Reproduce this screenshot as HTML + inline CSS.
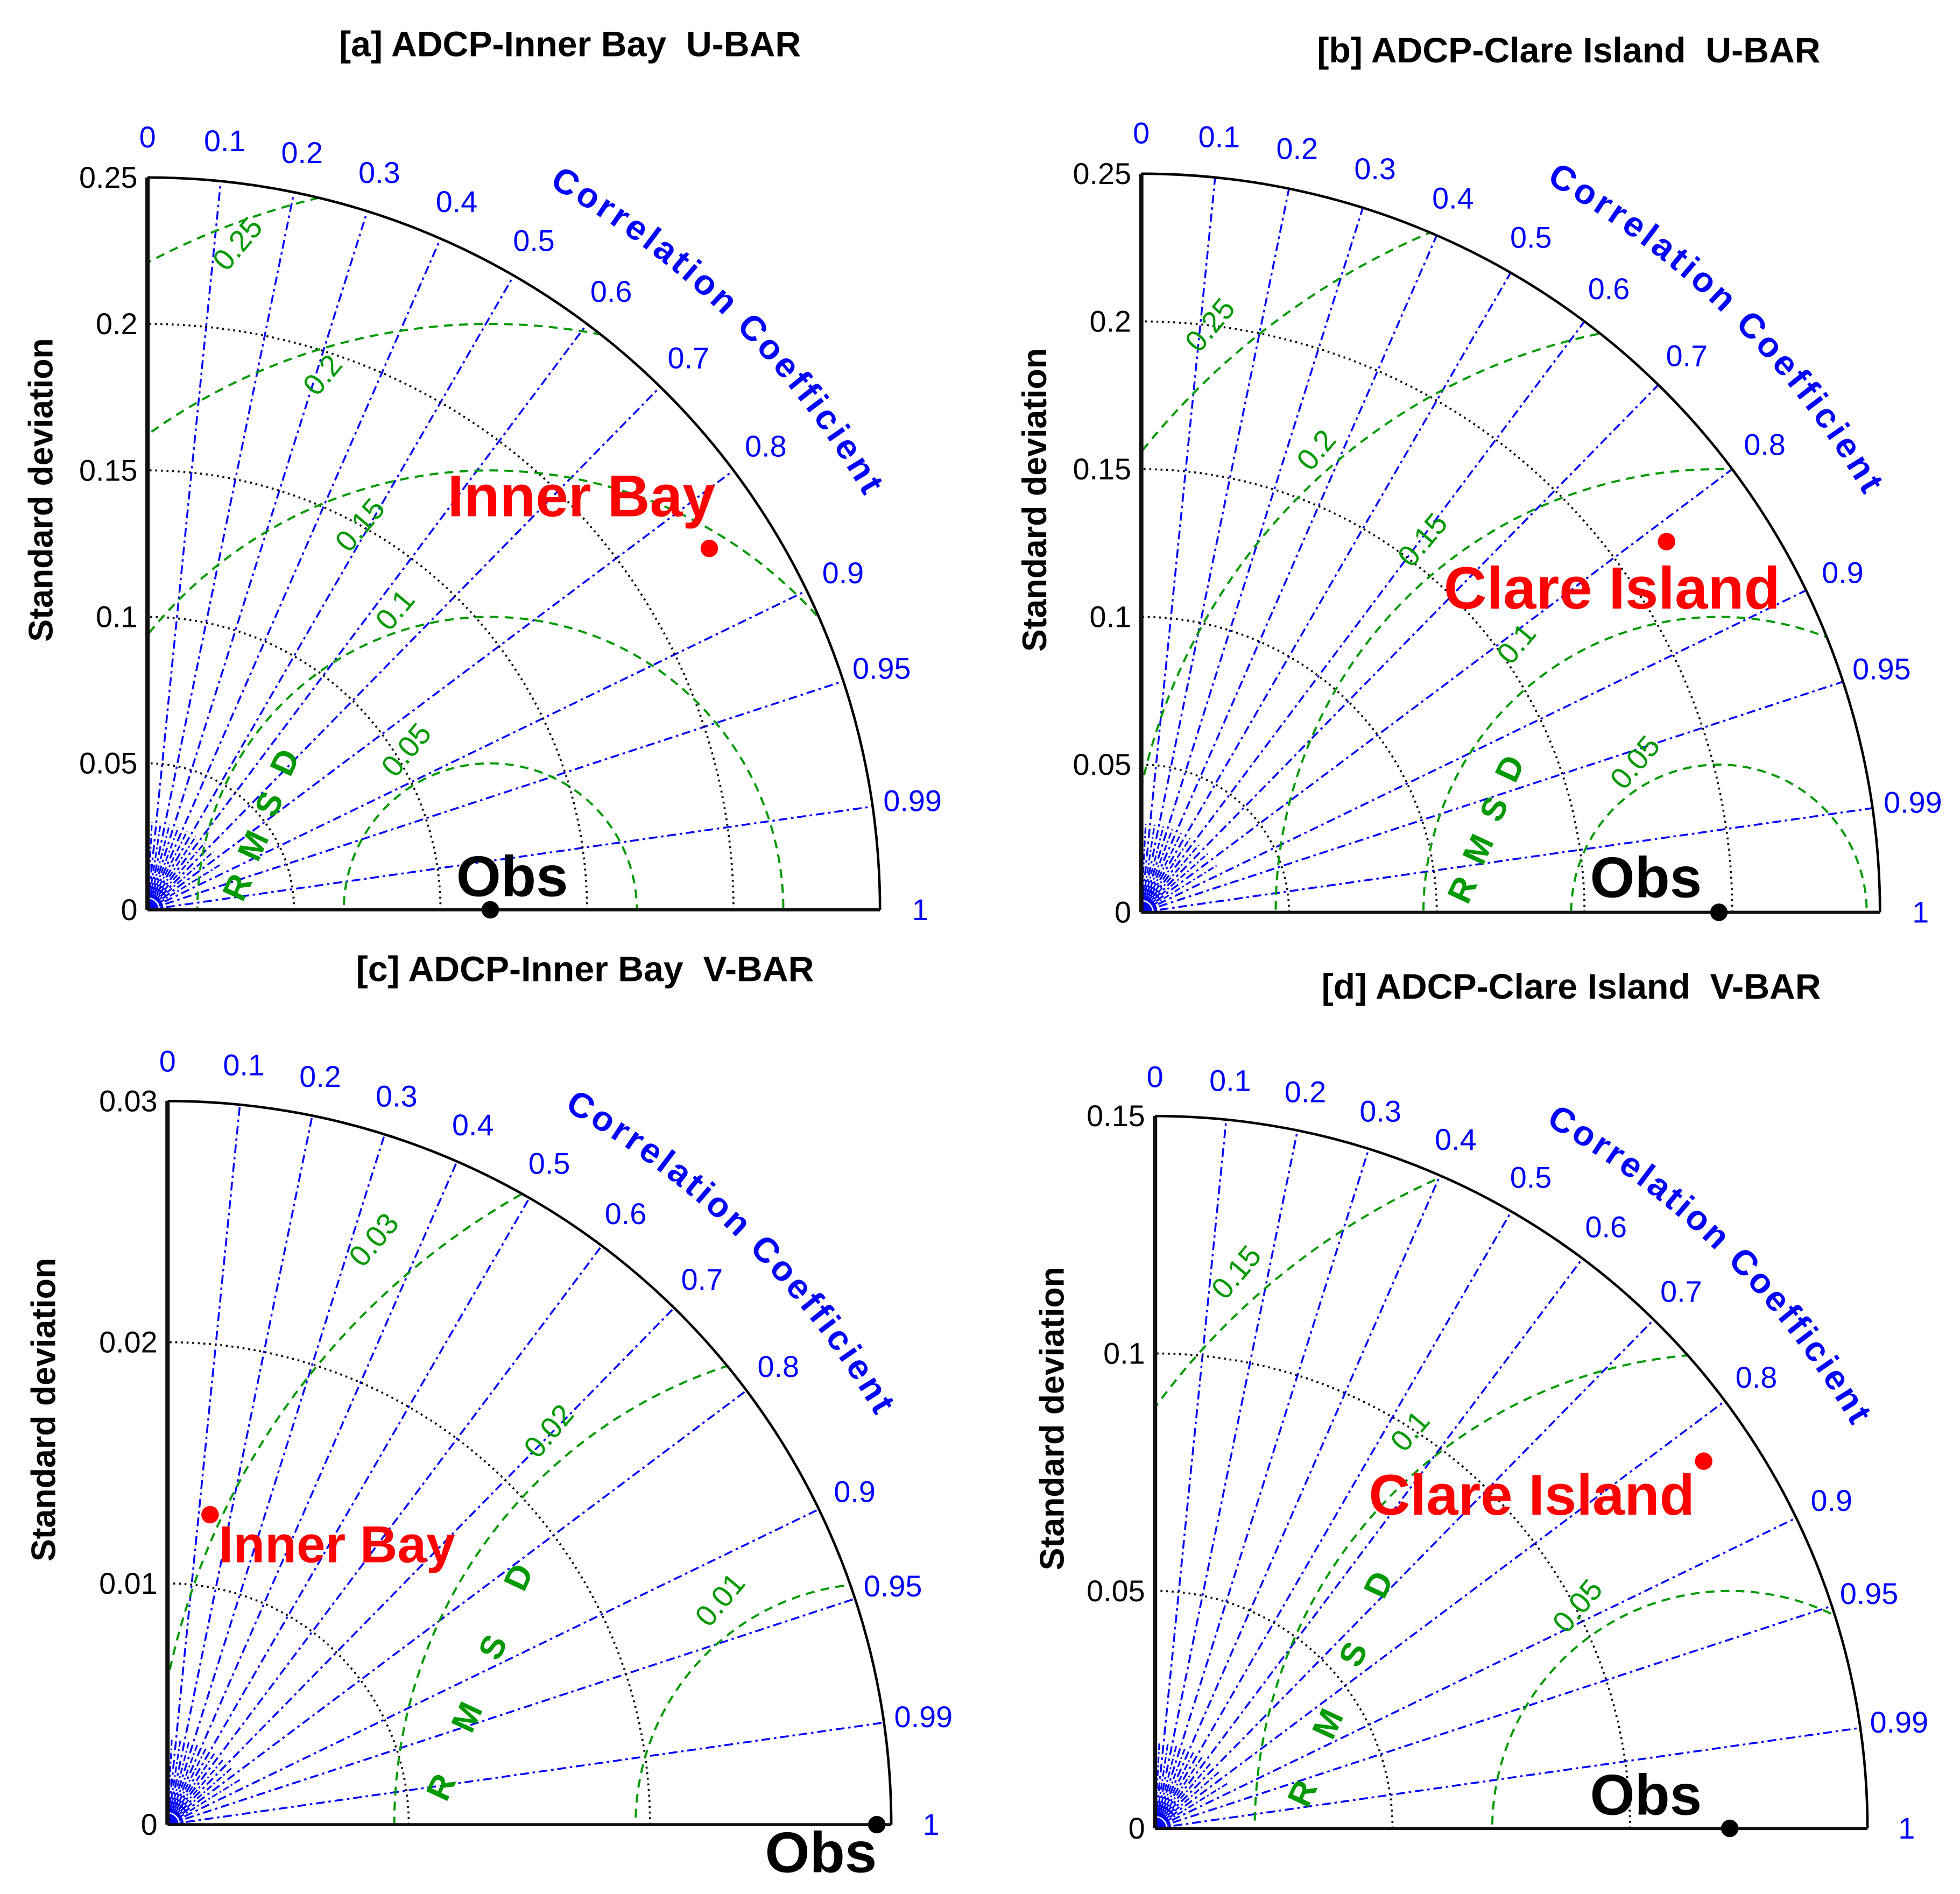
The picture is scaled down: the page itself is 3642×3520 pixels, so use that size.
<!DOCTYPE html>
<html><head><meta charset="utf-8">
<style>
html,body{margin:0;padding:0;background:#fff;overflow:hidden;width:3642px;height:3520px;}
svg{display:block;position:absolute;left:0;top:0;}
text{font-family:"Liberation Sans",Arial,sans-serif;}
</style></head>
<body>
<svg id="fig" xmlns="http://www.w3.org/2000/svg" width="3642" height="3520" viewBox="0 0 1568 1515.5" overflow="hidden">
<rect x="0" y="0" width="1568" height="1515.5" fill="#fff"/>
</svg>
<script>
// ---- data ----
const panelTitles = ["[a] ADCP-Inner Bay\u00a0\u00a0U-BAR","[b] ADCP-Clare Island\u00a0\u00a0U-BAR","[c] ADCP-Inner Bay\u00a0\u00a0V-BAR","[d] ADCP-Clare Island\u00a0\u00a0V-BAR"];
const modelNames = ["Inner Bay","Clare Island","Inner Bay","Clare Island"];
const stdMax = [0.25,0.25,0.03,0.15];
const stdObs = [0.117,0.1955,0.0294,0.121];
const stdModel = [0.228,0.2176,0.01297,0.139];
const corrModel = [0.841,0.817,0.136,0.831];
const stdTicksA = [0,0.05,0.1,0.15,0.2,0.25];
const stdTicksB = [0,0.05,0.1,0.15,0.2,0.25];
const stdTicksC = [0,0.01,0.02,0.03];
const stdTicksD = [0,0.05,0.1,0.15];
const rmsLevelsA = [0.05,0.1,0.15,0.2,0.25];
const rmsLevelsB = [0.05,0.1,0.15,0.2,0.25];
const rmsLevelsC = [0.01,0.02,0.03];
const rmsLevelsD = [0.05,0.1,0.15];
const corrTicks = [0,0.1,0.2,0.3,0.4,0.5,0.6,0.7,0.8,0.9,0.95,0.99,1];
const corrMinor = [0.05,0.15,0.25,0.35,0.45,0.55,0.65,0.75,0.85];
const stdTicksAll = [stdTicksA,stdTicksB,stdTicksC,stdTicksD];
const rmsAll = [rmsLevelsA,rmsLevelsB,rmsLevelsC,rmsLevelsD];

// ---- layout (pixel geometry) ----
const geom = [
 {ox:118,oy:728,R:586,tx:456,ty:45,sx:33,sy:392,mx:358,my:413,mf:47,bx:365,by:717,rm:[[72,-18],[110,-118]],lab:[[207,-128],[198,-240],[170,-308],[140,-428],[72,-533]]},
 {ox:913,oy:730,R:591,tx:1255,ty:50,sx:828,sy:400,mx:1155,my:487,mf:47.5,bx:1272,by:718,rm:[[257,-18],[295,-115]],lab:[[395,-120],[300,-215],[225,-298],[140,-370],[55,-470]]},
 {ox:134,oy:1460,R:579,tx:468,ty:785,sx:35,sy:1128,mx:175,my:1250,mf:41.5,bx:612,by:1498,rm:[[219,-30],[281,-198]],lab:[[442,-180],[305,-315],[165,-468]]},
 {ox:924,oy:1463,R:570,tx:1257,ty:799,sx:842,sy:1135,mx:1095,my:1212,mf:46,bx:1272,by:1452,rm:[[118,-28],[179,-195]],lab:[[338,-178],[204,-318],[65,-445]]}
];

const NS="http://www.w3.org/2000/svg";
const svg=document.getElementById('fig');
function el(tag,attrs,parent,txt){const e=document.createElementNS(NS,tag);for(const k in attrs)e.setAttribute(k,attrs[k]);if(txt!==undefined)e.textContent=txt;(parent||svg).appendChild(e);return e;}
function fmt(v){return String(+v.toFixed(4));}

const defs=el('defs',{});
for(let p=0;p<4;p++){
  const g=geom[p], k=g.R/stdMax[p];
  const P=(s,c)=>[g.ox+s*k*c, g.oy-s*k*Math.sqrt(Math.max(0,1-c*c))];
  const grp=el('g',{});
  
  
  const cp=el('clipPath',{id:'clip'+p},defs);
  el('path',{d:`M${g.ox},${g.oy} L${g.ox+g.R},${g.oy} A${g.R},${g.R} 0 0 0 ${g.ox},${g.oy-g.R} Z`},cp);
  const t=el('text',{x:g.tx,y:g.ty,'text-anchor':'middle','font-size':28.5,'font-weight':'bold',fill:'#000'},grp,panelTitles[p]);
  
  
  const sl=el('text',{x:g.sx,y:g.sy,'text-anchor':'middle','font-size':27,'font-weight':'bold',fill:'#000',transform:`rotate(-90 ${g.sx} ${g.sy})`,'dominant-baseline':'central'},grp,'Standard deviation');
  
  
  corrMinor.forEach(c=>{const [x,y]=P(stdMax[p]*0.12,c);
    const l=el('line',{x1:g.ox,y1:g.oy,x2:x,y2:y,stroke:'#0000ff','stroke-width':1.3,'stroke-dasharray':'5 2 1.5 2'},grp);
    
    });
  [4,8,12].forEach(r=>{el('path',{d:`M${g.ox+r},${g.oy} A${r},${r} 0 0 0 ${g.ox},${g.oy-r}`,fill:'none',stroke:'#0000ff','stroke-width':1.8},grp);});
  corrTicks.forEach(c=>{
    const [x,y]=P(stdMax[p],c);
    if(c>0&&c<1){const l=el('line',{x1:g.ox,y1:g.oy,x2:x,y2:y,stroke:'#0000ff','stroke-width':1.5,'stroke-dasharray':'7 3 2 3'},grp);
      
      }
    const [lx,ly]=P(stdMax[p]*1.055,c);
    const tt=el('text',{x:lx,y:ly,'text-anchor':'middle','dominant-baseline':'central','font-size':24,fill:'#0000ff'},grp,fmt(c));
    
    
  });
  stdTicksAll[p].forEach(s=>{
    const r=s*k;
    if(s>0&&s<stdMax[p]-1e-9){const a=el('path',{d:`M${g.ox+r},${g.oy} A${r},${r} 0 0 0 ${g.ox},${g.oy-r}`,fill:'none',stroke:'#000','stroke-width':1.6,'stroke-dasharray':'1.5 3'},grp);
      
      }
    const tl=el('text',{x:g.ox-8,y:g.oy-r,'text-anchor':'end','dominant-baseline':'central','font-size':24,fill:'#000'},grp,fmt(s));
    
    
  });
  const rg=el('g',{'clip-path':`url(#clip${p})`},grp);
  const obsX=g.ox+stdObs[p]*k;
  rmsAll[p].forEach((r,i)=>{
    const rp=r*k;
    const c=el('circle',{cx:obsX,cy:g.oy,r:rp,fill:'none',stroke:'#009900','stroke-width':1.7,'stroke-dasharray':'7 5'},rg);
    
    
    const lx=g.ox+g.lab[i][0], ly=g.oy+g.lab[i][1];
    const tl=el('text',{x:lx,y:ly,'text-anchor':'middle','dominant-baseline':'central','font-size':24,fill:'#009900',transform:`rotate(-50 ${lx} ${ly})`},grp,fmt(r));
    
    
  });
  const L=['R','M','S','D'];
  const [a0,a1]=g.rm;
  L.forEach((ch,i)=>{const f=i/3,x=g.ox+a0[0]+(a1[0]-a0[0])*f,y=g.oy+a0[1]+(a1[1]-a0[1])*f;
    const lt=el('text',{x:x,y:y,'text-anchor':'middle','dominant-baseline':'central','font-size':27,'font-weight':'bold',fill:'#009900',transform:`rotate(-65 ${x} ${y})`},grp,ch);
    
    });
  el('line',{x1:g.ox,y1:g.oy,x2:g.ox,y2:g.oy-g.R,stroke:'#111','stroke-width':3.5},grp);
  el('line',{x1:g.ox,y1:g.oy,x2:g.ox+g.R,y2:g.oy,stroke:'#111','stroke-width':2.5},grp);
  el('path',{d:`M${g.ox+g.R},${g.oy} A${g.R},${g.R} 0 0 0 ${g.ox},${g.oy-g.R}`,fill:'none',stroke:'#000','stroke-width':2},grp);
  const rr=g.R*1.13, a1r=61*Math.PI/180, a2r=29*Math.PI/180;
  el('path',{id:'cp'+p,d:`M${g.ox+rr*Math.cos(a1r)},${g.oy-rr*Math.sin(a1r)} A${rr},${rr} 0 0 1 ${g.ox+rr*Math.cos(a2r)},${g.oy-rr*Math.sin(a2r)}`,fill:'none'},defs);
  const ct=el('text',{'font-size':28,'font-weight':'bold',fill:'#0000ff'},grp);
  
  
  el('textPath',{href:'#cp'+p,textLength:rr*(31*Math.PI/180),lengthAdjust:'spacing'},ct,'Correlation Coefficient');
  const [ox2,oy2]=P(stdObs[p],1);
  const od=el('circle',{cx:ox2,cy:oy2,r:7,fill:'#000'},grp);
  
  
  const ot=el('text',{x:g.bx,y:g.by,'font-size':46,'font-weight':'bold',fill:'#000'},grp,'Obs');
  
  
  const [mx,my]=P(stdModel[p],corrModel[p]);
  const md=el('circle',{cx:mx,cy:my,r:7,fill:'#ff0000'},grp);
  
  
  const mt=el('text',{x:g.mx,y:g.my,'font-size':g.mf,'font-weight':'bold',fill:'#ff0000'},grp,modelNames[p]);
  
  
}
</script>
</body></html>
